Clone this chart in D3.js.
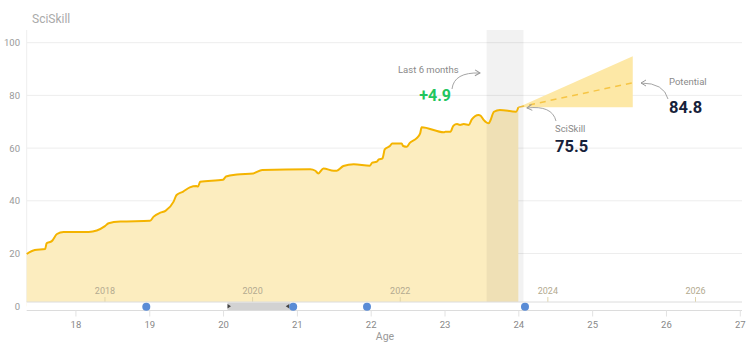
<!DOCTYPE html>
<html lang="en">
<head>
<meta charset="utf-8">
<title>SciSkill</title>
<script src="https://cdn.jsdelivr.net/npm/d3@7"></script>
<style>
  body { margin: 0; background: #fff; }
  svg { display: block; font-family: Roboto, "Noto Sans", sans-serif; }
</style>
</head>
<body>
<div id="chart"></div>
<script>
// skill history (age -> score)
var ages = [17.34, 17.45, 17.59, 17.61, 17.68, 17.75, 17.84, 18.18, 18.40, 18.45, 18.61, 19.01,
  19.06, 19.15, 19.22, 19.33, 19.37, 19.46, 19.55, 19.64, 19.66, 19.69, 20.00, 20.04, 20.19, 20.41,
  20.53, 21.18, 21.25, 21.29, 21.36, 21.50, 21.54, 21.63, 21.77, 21.99, 22.02, 22.08, 22.11, 22.16,
  22.19, 22.26, 22.29, 22.42, 22.44, 22.49, 22.53, 22.62, 22.67, 22.69, 22.99, 23.01, 23.08, 23.12,
  23.17, 23.21, 23.26, 23.33, 23.37, 23.46, 23.49, 23.53, 23.60, 23.62, 23.67, 23.75, 23.97, 24.00];
var sciSkill = [19.8, 21.3, 21.7, 23.9, 24.7, 27.4, 28.2, 28.2, 30.4, 31.5, 32.1, 32.4,
  34.0, 35.5, 36.2, 39.7, 42.2, 43.5, 45.1, 45.6, 45.4, 47.2, 48.0, 49.2, 50.0, 50.4,
  51.7, 52.0, 51.4, 50.4, 52.3, 51.4, 51.4, 53.2, 53.9, 53.3, 54.5, 54.8, 55.7, 56.1,
  59.5, 60.8, 61.7, 61.7, 60.8, 60.5, 62.0, 63.7, 65.6, 67.9, 66.0, 66.2, 66.2, 68.5,
  69.1, 68.8, 69.1, 68.8, 70.9, 72.6, 72.3, 70.7, 69.4, 70.4, 73.8, 74.5, 73.8, 75.5];

// projection
var projAges = [24.0, 25.55];
var projMid = [75.5, 84.8];
var projHigh = [75.5, 94.9];
var projLow = [75.5, 75.5];

// timeline events
var eventAges = [18.96, 20.95, 21.95, 24.09];
var rangeAges = [20.06, 20.91];
var lastSixMonths = [23.57, 24.07];

var yTicks = [0, 20, 40, 60, 80, 100];
var ageTicks = [18, 19, 20, 21, 22, 23, 24, 25, 26, 27];
var yearTicks = [2018, 2020, 2022, 2024, 2026];
var birthYear = 1999.6;

var w = 750, h = 343;
var plotLeft = 26.7, plotRight = 742, plotTop = 30, bandTop = 302;

var x = d3.scaleLinear().domain([17.34, 27.03]).range([plotLeft, plotRight]);
var y = d3.scaleLinear().domain([0, 100]).range([306.2, 42.7]);

var svg = d3.select("#chart").append("svg")
  .attr("width", w).attr("height", h);

svg.append("defs").append("marker")
  .attr("id", "arrow")
  .attr("viewBox", "0 0 8 8")
  .attr("refX", 6).attr("refY", 4)
  .attr("markerWidth", 8).attr("markerHeight", 8)
  .attr("markerUnits", "userSpaceOnUse")
  .attr("orient", "auto")
  .append("path")
  .attr("d", "M1,1 L6,4 L1,7")
  .attr("fill", "none")
  .attr("stroke", "#9a9a9a")
  .attr("stroke-width", 1);

// title
svg.append("text")
  .attr("x", 32).attr("y", 23)
  .attr("font-size", 12).attr("fill", "#aaa")
  .text("SciSkill");

// grid
svg.selectAll(".grid")
  .data(yTicks.filter(function (d) { return d > 0; }))
  .enter().append("line")
  .attr("x1", plotLeft).attr("x2", plotRight)
  .attr("y1", function (d) { return y(d); })
  .attr("y2", function (d) { return y(d); })
  .attr("stroke", "#ededed");

svg.append("line")
  .attr("x1", plotLeft).attr("x2", plotLeft)
  .attr("y1", plotTop).attr("y2", bandTop)
  .attr("stroke", "#eeeeee");

svg.selectAll(".ylab")
  .data(yTicks)
  .enter().append("text")
  .attr("x", 20)
  .attr("y", function (d) { return y(d) + 3.5; })
  .attr("text-anchor", "end")
  .attr("font-size", 9.5)
  .attr("fill", "#999")
  .text(function (d) { return d; });

var pts = ages.map(function (a, i) { return [a, sciSkill[i]]; });

var area = d3.area()
  .x(function (d) { return x(d[0]); })
  .y0(y(0))
  .y1(function (d) { return y(d[1]); })
  .curve(d3.curveMonotoneX);

var line = d3.line()
  .x(function (d) { return x(d[0]); })
  .y(function (d) { return y(d[1]); })
  .curve(d3.curveMonotoneX);

svg.append("path")
  .datum(pts)
  .attr("d", area)
  .attr("fill", "#fcedbf");

// projection cone
var cone = projAges.map(function (a, i) { return [a, projLow[i], projHigh[i]]; });
svg.append("path")
  .datum(cone)
  .attr("d", d3.area()
    .x(function (d) { return x(d[0]); })
    .y0(function (d) { return y(d[1]); })
    .y1(function (d) { return y(d[2]); }))
  .attr("fill", "#fde8a6");

svg.append("path")
  .datum(projAges.map(function (a, i) { return [a, projMid[i]]; }))
  .attr("d", line)
  .attr("fill", "none")
  .attr("stroke", "#f6c545")
  .attr("stroke-width", 1.5)
  .attr("stroke-dasharray", "6,5");

// last 6 months
svg.append("rect")
  .attr("x", x(lastSixMonths[0]))
  .attr("y", plotTop)
  .attr("width", x(lastSixMonths[1]) - x(lastSixMonths[0]))
  .attr("height", bandTop - plotTop)
  .attr("fill", "#000")
  .attr("fill-opacity", 0.05);

svg.append("path")
  .datum(pts)
  .attr("d", line)
  .attr("fill", "none")
  .attr("stroke", "#f4b400")
  .attr("stroke-width", 2);

// year ticks
svg.selectAll(".ytick")
  .data(yearTicks)
  .enter().append("line")
  .attr("x1", function (d) { return x(d - birthYear); })
  .attr("x2", function (d) { return x(d - birthYear); })
  .attr("y1", 297).attr("y2", bandTop)
  .attr("stroke", "#e0d4a8");

svg.selectAll(".yearlab")
  .data(yearTicks)
  .enter().append("text")
  .attr("x", function (d) { return x(d - birthYear); })
  .attr("y", 294)
  .attr("text-anchor", "middle")
  .attr("font-size", 9)
  .attr("fill", "#b3aa90")
  .text(function (d) { return d; });

// timeline band
svg.append("rect")
  .attr("x", plotLeft).attr("y", bandTop)
  .attr("width", plotRight - plotLeft).attr("height", 8.5)
  .attr("fill", "#fff");
svg.append("line")
  .attr("x1", plotLeft).attr("x2", plotRight).attr("y1", bandTop).attr("y2", bandTop)
  .attr("stroke", "#dcdcdc");
svg.append("line")
  .attr("x1", plotLeft).attr("x2", plotRight).attr("y1", 310.5).attr("y2", 310.5)
  .attr("stroke", "#dcdcdc");

svg.append("rect")
  .attr("x", x(rangeAges[0])).attr("y", 302.5)
  .attr("width", x(rangeAges[1]) - x(rangeAges[0])).attr("height", 7.5)
  .attr("fill", "#d2d2d2");
svg.append("path")
  .attr("d", "M" + x(rangeAges[0]) + ",304 l3.5,2.3 l-3.5,2.3 Z")
  .attr("fill", "#444");
svg.append("path")
  .attr("d", "M" + (x(rangeAges[1]) - 1) + ",304 l-3.5,2.3 l3.5,2.3 Z")
  .attr("fill", "#444");

svg.selectAll(".event")
  .data(eventAges)
  .enter().append("circle")
  .attr("cx", function (d) { return x(d); })
  .attr("cy", y(0) + 0.5)
  .attr("r", 4)
  .attr("fill", "#5a8cd6");

// age axis
var ageAxis = d3.axisBottom(x)
  .tickValues(ageTicks)
  .tickSize(6)
  .tickPadding(5)
  .tickFormat(d3.format("d"));
var gAx = svg.append("g")
  .attr("transform", "translate(0,310.5)")
  .call(ageAxis);
gAx.select(".domain").remove();
gAx.selectAll("line").attr("stroke", "#e2e2e2");
gAx.selectAll("text").attr("fill", "#888").attr("font-size", 9.5)
  .attr("font-family", "Roboto, sans-serif");

svg.append("text")
  .attr("x", 385).attr("y", 340)
  .attr("text-anchor", "middle")
  .attr("font-size", 10.5)
  .attr("fill", "#999")
  .text("Age");

// annotations
function arrow(d) {
  svg.append("path")
    .attr("d", d)
    .attr("fill", "none")
    .attr("stroke", "#a5a5a5")
    .attr("stroke-width", 1)
    .attr("marker-end", "url(#arrow)");
}

svg.append("text")
  .attr("x", 398).attr("y", 73)
  .attr("font-size", 9.5).attr("fill", "#8a8a8a")
  .text("Last 6 months");
arrow("M452,89 Q454,72 480,73");
svg.append("text")
  .attr("x", 451).attr("y", 101)
  .attr("text-anchor", "end")
  .attr("font-size", 16).attr("font-weight", 700)
  .attr("fill", "#22c55e")
  .text("+4.9");

svg.append("text")
  .attr("x", 555).attr("y", 131.5)
  .attr("font-size", 9.5).attr("fill", "#8a8a8a")
  .text("SciSkill");
arrow("M556,121 Q552,105 527,108");
svg.append("text")
  .attr("x", 555).attr("y", 152)
  .attr("font-size", 16.5).attr("font-weight", 700)
  .attr("fill", "#16213a")
  .text("75.5");

svg.append("text")
  .attr("x", 669).attr("y", 84.5)
  .attr("font-size", 9.5).attr("fill", "#8a8a8a")
  .text("Potential");
arrow("M668,99 Q664,83 641,83");
svg.append("text")
  .attr("x", 669).attr("y", 112.5)
  .attr("font-size", 16.5).attr("font-weight", 700)
  .attr("fill", "#16213a")
  .text("84.8");
</script>
</body>
</html>
